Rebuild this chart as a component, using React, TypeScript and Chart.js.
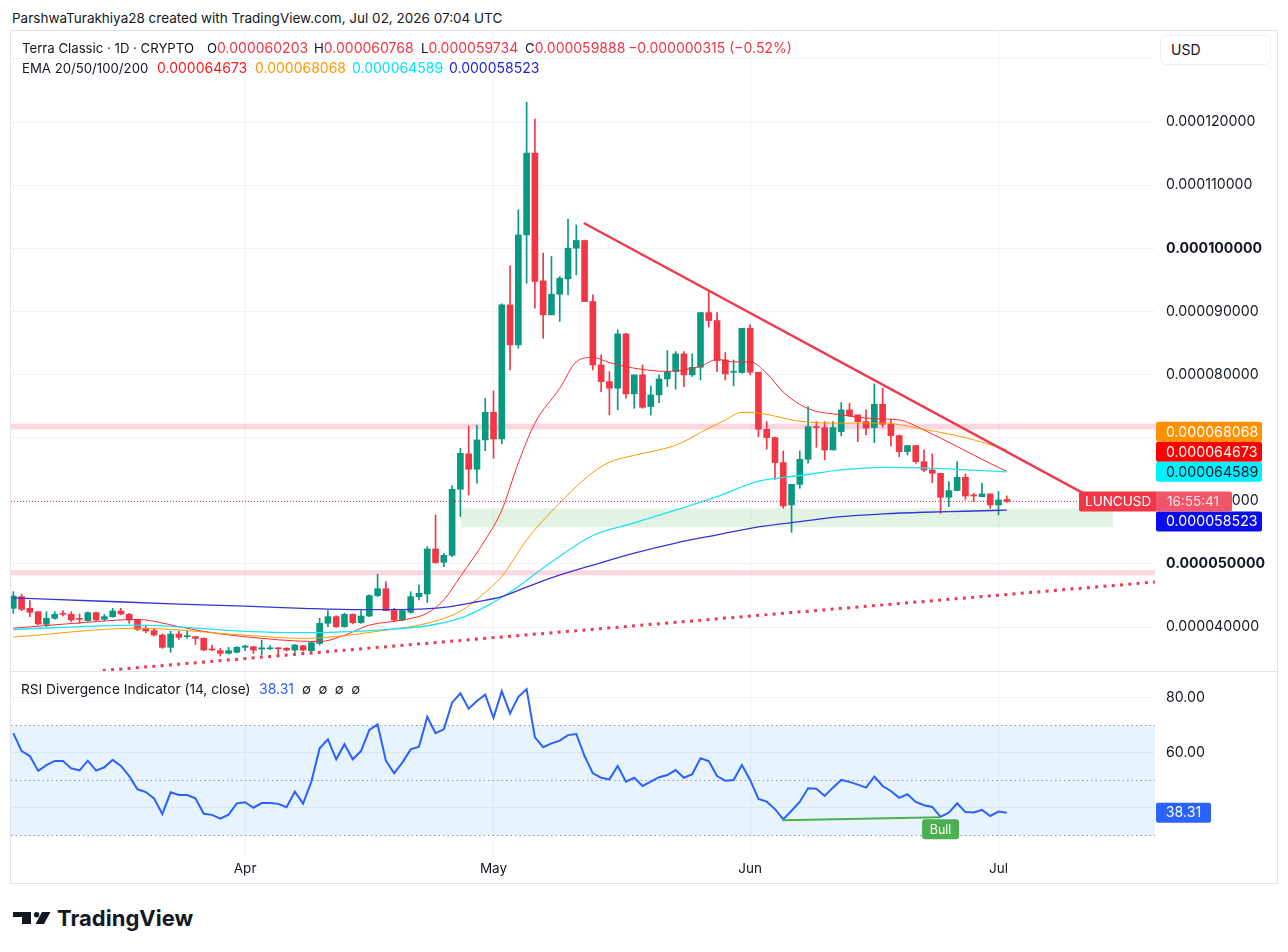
import React, { useEffect, useRef } from 'react';
import { Chart, registerables } from 'chart.js';

Chart.register(...registerables);

const FONT = 'Inter, "Noto Sans", "DejaVu Sans", sans-serif';

// Daily candles, index 0 = Mar 4 2026 ... index 120 = Jul 2 2026. Prices in units of 1e-6 USD.
const OPEN = [
  42.96, 44.81, 42.96, 42.43, 40.42, 41.37, 42.17, 42.01, 41.37, 41.0,
  42.27, 41.22, 41.64, 42.54, 42.01, 41.11, 39.79, 39.42, 38.73, 36.78,
  38.89, 38.47, 38.47, 38.2, 36.46, 36.25, 35.83, 35.99, 36.78, 36.88,
  36.5, 36.55, 36.65, 36.62, 36.35, 37.04, 36.25, 37.41, 40.58, 41.64,
  40.05, 42.01, 40.69, 41.74, 44.97, 46.07, 42.59, 41.11, 42.32, 44.81,
  45.23, 52.36, 50.25, 51.36, 61.82, 67.42, 64.99, 69.64, 74.02, 69.79,
  91.03, 84.69, 102.12, 115.07, 94.83, 89.45, 92.72, 95.15, 100.01, 101.23,
  91.56, 81.52, 78.88, 77.83, 86.43, 76.93, 79.94, 74.92, 76.77, 79.3,
  80.46, 83.26, 79.94, 81.15, 89.81, 88.55, 82.31, 80.36, 80.31, 87.33,
  80.36, 71.33, 70.01, 66.04, 59.33, 62.61, 66.57, 71.75, 71.59, 68.05,
  70.96, 74.39, 73.6, 72.54, 71.59, 75.29, 72.12, 70.32, 67.79, 68.74,
  66.2, 64.88, 64.35, 60.55, 61.61, 63.72, 60.92, 60.65, 61.08, 59.33,
  60.203,
];
const HIGH = [
  45.6, 45.18, 44.17, 42.43, 42.43, 42.43, 42.59, 42.43, 42.06, 42.4,
  42.35, 42.01, 42.96, 42.96, 42.17, 41.22, 40.16, 39.79, 38.89, 39.37,
  39.37, 39.42, 38.47, 38.3, 37.15, 36.62, 36.78, 36.9, 37.15, 36.95,
  37.94, 37.0, 36.7, 36.75, 37.2, 37.1, 37.6, 41.37, 42.59, 41.8,
  42.2, 42.1, 42.59, 45.1, 48.35, 47.18, 42.96, 42.8, 45.6, 46.66,
  52.73, 57.75, 51.67, 62.35, 68.32, 71.85, 72.0, 76.24, 77.4, 91.2,
  97.21, 106.09, 123.15, 120.45, 99.22, 98.69, 95.52, 104.61, 103.71, 101.3,
  92.61, 83.11, 80.46, 87.07, 86.54, 79.94, 81.52, 78.19, 79.94, 83.79,
  83.63, 83.63, 83.26, 89.81, 93.14, 89.81, 83.48, 82.31, 87.33, 87.86,
  80.36, 72.54, 70.1, 67.89, 62.61, 67.89, 74.92, 72.54, 72.54, 72.54,
  75.55, 75.45, 73.6, 74.39, 78.51, 77.82, 72.91, 70.43, 68.74, 68.74,
  68.05, 67.42, 64.35, 63.03, 66.2, 64.25, 61.18, 62.77, 61.08, 61.45,
  60.768,
];
const LOW = [
  42.17, 42.59, 41.64, 40.32, 40.05, 41.22, 41.74, 40.85, 40.58, 40.9,
  41.0, 41.0, 41.53, 41.9, 40.58, 39.42, 39.1, 38.57, 36.62, 35.99,
  38.05, 38.2, 37.25, 36.25, 36.25, 35.4, 35.72, 35.9, 36.25, 35.8,
  35.56, 36.4, 35.3, 36.2, 36.0, 36.2, 36.1, 37.15, 40.05, 39.9,
  39.95, 40.5, 40.58, 41.6, 44.81, 42.59, 40.85, 41.0, 42.17, 44.28,
  43.86, 50.09, 49.56, 51.15, 57.49, 60.92, 62.77, 67.94, 66.73, 69.0,
  80.73, 84.16, 94.46, 90.5, 85.75, 89.45, 88.39, 92.61, 95.78, 91.56,
  80.73, 77.3, 73.6, 74.39, 76.24, 74.65, 74.65, 73.6, 75.55, 78.09,
  77.67, 78.09, 79.67, 79.14, 87.5, 80.46, 79.14, 78.19, 80.2, 79.94,
  70.16, 68.16, 63.4, 58.81, 55.0, 61.98, 65.94, 68.47, 66.47, 68.05,
  70.27, 73.33, 69.37, 70.43, 69.21, 71.64, 68.68, 66.99, 67.26, 65.94,
  64.62, 62.87, 58.01, 59.07, 61.61, 60.23, 59.86, 60.65, 58.81, 57.75,
  59.734,
];
const CLOSE = [
  44.91, 42.8, 42.32, 40.48, 41.37, 42.01, 42.01, 41.11, 41.22, 42.27,
  41.11, 41.64, 42.54, 42.06, 41.11, 39.63, 39.37, 38.73, 36.78, 38.89,
  38.36, 38.57, 38.2, 36.36, 36.36, 35.83, 36.25, 36.78, 36.99, 36.35,
  36.7, 36.7, 36.55, 36.35, 37.15, 36.35, 37.52, 40.58, 41.64, 40.05,
  42.01, 40.69, 41.74, 44.97, 46.07, 42.59, 41.11, 42.59, 44.81, 45.34,
  52.36, 50.2, 51.36, 61.82, 67.52, 64.99, 69.64, 74.02, 69.79, 91.03,
  84.69, 102.12, 115.07, 94.73, 89.45, 92.72, 95.26, 100.01, 101.23, 91.56,
  81.52, 78.88, 77.83, 86.43, 76.93, 79.94, 74.81, 76.77, 79.3, 80.46,
  83.26, 79.94, 81.15, 89.81, 88.55, 82.21, 80.1, 80.46, 87.33, 80.36,
  71.33, 70.01, 66.04, 59.18, 62.61, 66.57, 71.75, 71.59, 68.05, 71.59,
  74.39, 73.49, 72.54, 71.49, 75.29, 72.12, 70.32, 67.79, 68.74, 66.2,
  64.88, 64.35, 60.55, 61.61, 63.72, 60.76, 60.76, 61.08, 59.33, 60.13,
  59.888,
];

// RSI (14, close), one value per candle
const RSI = [
  67.2, 60.7, 58.9, 53.5, 55.6, 57.1, 57.1, 54.4, 53.7, 57.2,
  53.6, 54.8, 57.5, 55.3, 51.6, 46.8, 45.8, 43.5, 37.8, 45.7,
  44.7, 44.7, 43.5, 37.9, 37.5, 36.1, 37.6, 41.7, 42.1, 40.1,
  41.8, 41.8, 41.5, 40.3, 45.9, 41.6, 49.6, 61.7, 65.0, 57.7,
  63.2, 57.7, 60.7, 68.4, 70.4, 57.2, 52.6, 56.6, 61.3, 62.3,
  73.2, 67.2, 68.6, 78.3, 81.7, 76.1, 78.9, 81.2, 72.8, 82.5,
  74.4, 80.4, 83.2, 65.7, 62.1, 63.5, 64.5, 66.5, 66.9, 58.9,
  52.6, 51.0, 50.4, 55.3, 49.6, 51.0, 48.0, 49.6, 51.2, 52.0,
  53.8, 51.0, 52.3, 58.1, 57.1, 51.6, 49.9, 50.2, 55.6, 50.2,
  43.3, 42.3, 39.6, 35.9, 39.0, 42.3, 47.2, 47.0, 44.4, 47.4,
  50.2, 49.5, 48.5, 47.4, 51.4, 48.0, 46.2, 43.7, 45.0, 42.2,
  41.0, 40.4, 36.8, 38.3, 41.7, 38.5, 38.4, 39.3, 37.1, 38.7,
  38.31,
];

// EMA lines (candle index -> value)
const EMA20_IDX = [0, 10, 15, 17, 20, 24, 30, 34, 37, 40, 43, 47, 50, 52, 54, 57, 59, 61, 63, 66, 68, 70, 72, 75, 79, 83, 85, 87, 89, 91, 93, 96, 100, 104, 107, 110, 114, 118, 120];
const EMA20_VAL = [39.8, 40.85, 41.2, 40.9, 40.05, 39.1, 38.2, 37.8, 37.7, 38.7, 40.3, 41.1, 42.2, 44.3, 48.0, 53.8, 58.5, 66.0, 72.3, 77.8, 82.0, 82.7, 81.9, 81.0, 80.5, 81.3, 82.4, 82.0, 82.0, 80.2, 77.2, 74.6, 73.6, 73.0, 72.8, 71.2, 68.6, 65.9, 64.673];
const EMA50_IDX = [0, 15, 28, 35, 45, 50, 54, 57, 59, 62, 65, 70, 72, 75, 80, 84, 86, 88, 90, 95, 100, 105, 110, 115, 120];
const EMA50_VAL = [38.4, 39.8, 38.7, 38.2, 39.5, 40.6, 42.5, 45.5, 48.0, 53.8, 58.3, 64.5, 66.1, 67.2, 68.8, 71.5, 72.8, 74.0, 73.9, 72.6, 72.3, 72.3, 71.3, 70.0, 68.068];
const EMA100_IDX = [0, 15, 28, 35, 45, 50, 54, 57, 60, 65, 70, 75, 80, 85, 90, 95, 100, 105, 110, 115, 120];
const EMA100_VAL = [39.6, 40.3, 39.3, 39.1, 39.6, 40.2, 41.4, 43.2, 45.5, 50.3, 54.5, 56.5, 58.5, 60.65, 63.1, 64.0, 64.9, 65.3, 65.2, 64.9, 64.589];
const EMA200_IDX = [0, 10, 20, 28, 35, 42, 48, 52, 56, 59, 60, 65, 70, 75, 80, 85, 90, 95, 100, 105, 110, 115, 120];
const EMA200_VAL = [44.6, 44.12, 43.64, 43.3, 42.96, 42.75, 42.8, 43.1, 44.0, 44.8, 45.3, 47.8, 49.8, 51.7, 53.3, 54.6, 55.85, 56.69, 57.48, 57.91, 58.18, 58.34, 58.523];

const MONTH_IDX = [28, 58, 89, 119];
const MONTH_LABELS = ['Apr', 'May', 'Jun', 'Jul'];
const PRICE_TICKS = [40, 50, 60, 70, 80, 90, 100, 110, 120, 130];
const HIDDEN_TICKS = [130];
const BOLD_TICKS = [50, 100];
const RSI_TICKS = [40, 60, 80];
const RSI_LEVELS = [70, 50, 30];

const PINK_BANDS = [[71.3, 72.2], [48.2, 49.0]];
const GREEN_ZONE_X = [54.1, 132.8];
const GREEN_ZONE_Y = [55.8, 58.8];
const TREND_DOWN_X = [68.9, 129.5];
const TREND_DOWN_Y = [104.0, 61.0];
const SUPPORT_X = [10.8, 137.9];
const SUPPORT_Y = [33.1, 47.13];
const DIV_X = [92.9, 112];
const DIV_Y = [35.5, 36.6];

const EMA_NAMES = ['EMA 20', 'EMA 50', 'EMA 100', 'EMA 200'];
const EMA_LAST = [64.673, 68.068, 64.589, 58.523];
const EMA_COLORS = ['#ff2a2a', '#ff9800', '#1ee3f5', '#3535d6'];
const EMA_TEXT = ['#ff1a1a', '#ff9800', '#00e5ff', '#1f1fdc'];
const EMA_LABEL_BG = ['#ff0000', '#ff9100', '#00f0ff', '#0b0bf0'];
const SYMBOL = 'LUNCUSD';
const COUNTDOWN = '16:55:41';

const X_MIN = -0.28;
const X_MAX = 137.9;
const Y_MIN = 33.03;
const Y_MAX = 134.42;
const RSI_MIN = 22.91;
const RSI_MAX = 89.45;

const GREEN = '#089981';
const RED = '#f23645';
const GRID = '#f0f3fa';
const TEXT = '#131722';
const AXIS_FONT = 14.2;
const LABEL_H = 20;

const fmtPrice = (v: number) => (v * 1e-6).toFixed(9);
const pts = (xs: number[], ys: number[]) => xs.map((x, k) => ({ x, y: ys[k] }));

const LAST = OPEN.length - 1;

const noPad = (s: any) => {
  s.paddingTop = 0;
  s.paddingBottom = 0;
  s.paddingLeft = 0;
  s.paddingRight = 0;
};

const mainDecor = {
  id: 'mainDecor',
  beforeDatasetsDraw(chart: any) {
    const { ctx, chartArea: a, scales } = chart;
    const x = scales.x;
    const y = scales.y;
    ctx.save();
    ctx.beginPath();
    ctx.rect(a.left, a.top, a.right - a.left, a.bottom - a.top);
    ctx.clip();
    ctx.fillStyle = 'rgba(242, 54, 100, 0.2)';
    PINK_BANDS.forEach(([lo, hi]) => {
      const y1 = y.getPixelForValue(hi);
      const y2 = y.getPixelForValue(lo);
      ctx.fillRect(a.left, y1, a.right - a.left, y2 - y1);
    });
    ctx.fillStyle = 'rgba(76, 175, 80, 0.16)';
    const gx1 = x.getPixelForValue(GREEN_ZONE_X[0]);
    const gx2 = x.getPixelForValue(GREEN_ZONE_X[1]);
    const gy1 = y.getPixelForValue(GREEN_ZONE_Y[1]);
    const gy2 = y.getPixelForValue(GREEN_ZONE_Y[0]);
    ctx.fillRect(gx1, gy1, gx2 - gx1, gy2 - gy1);
    ctx.restore();
  },
  afterDraw(chart: any) {
    const { ctx, chartArea: a, scales } = chart;
    const y = scales.y;
    const h = LABEL_H;
    const w = 106;
    const lastY = y.getPixelForValue(CLOSE[LAST]);
    const labels = EMA_LAST.map((v, k) => ({
      v,
      py: y.getPixelForValue(v),
      bg: EMA_LABEL_BG[k],
      fg: k === 2 ? TEXT : '#ffffff',
    }));
    const above = labels.filter((l) => l.py <= lastY).sort((p, q) => q.py - p.py);
    let prev = lastY;
    above.forEach((l) => {
      l.py = Math.min(l.py, prev - h);
      prev = l.py;
    });
    const below = labels.filter((l) => l.py > lastY).sort((p, q) => p.py - q.py);
    prev = lastY;
    below.forEach((l) => {
      l.py = Math.max(l.py, prev + h);
      prev = l.py;
    });
    ctx.save();
    ctx.font = `${AXIS_FONT}px ${FONT}`;
    ctx.textBaseline = 'middle';
    ctx.textAlign = 'left';
    labels.forEach((l) => {
      ctx.fillStyle = l.bg;
      ctx.beginPath();
      ctx.roundRect(a.right + 1, l.py - h / 2, w, h, 2);
      ctx.fill();
      ctx.fillStyle = l.fg;
      ctx.fillText(fmtPrice(l.v), a.right + 11, l.py + 0.5);
    });
    // symbol + countdown label
    ctx.fillStyle = '#f23645';
    ctx.beginPath();
    ctx.roundRect(a.right - 76, lastY - h / 2, 77, h, [2, 0, 0, 2]);
    ctx.fill();
    ctx.fillStyle = '#f0566a';
    ctx.beginPath();
    ctx.roundRect(a.right + 1, lastY - h / 2, 76, h, [0, 2, 2, 0]);
    ctx.fill();
    ctx.fillStyle = '#ffffff';
    ctx.font = `13.5px ${FONT}`;
    ctx.fillText(SYMBOL, a.right - 70, lastY + 0.5);
    ctx.fillStyle = 'rgba(255,255,255,0.82)';
    ctx.fillText(COUNTDOWN, a.right + 12, lastY + 0.5);
    ctx.restore();
  },
};

const rsiDecor = {
  id: 'rsiDecor',
  afterDraw(chart: any) {
    const { ctx, chartArea: a, scales } = chart;
    const x = scales.x;
    const y = scales.y;
    ctx.save();
    ctx.textBaseline = 'middle';
    ctx.textAlign = 'center';
    // Bull tag under divergence end
    const bx = x.getPixelForValue(DIV_X[1]);
    const by = y.getPixelForValue(DIV_Y[1]) + 2;
    ctx.fillStyle = '#4caf50';
    ctx.beginPath();
    ctx.roundRect(bx - 18.5, by, 37, 20, 3);
    ctx.fill();
    ctx.fillStyle = '#ffffff';
    ctx.font = `12.5px ${FONT}`;
    ctx.fillText('Bull', bx, by + 10.5);
    // last RSI value on the axis
    const ry = y.getPixelForValue(RSI[LAST]);
    ctx.fillStyle = '#2962ff';
    ctx.beginPath();
    ctx.roundRect(a.right + 1, ry - LABEL_H / 2, 55, LABEL_H, 2);
    ctx.fill();
    ctx.fillStyle = '#ffffff';
    ctx.font = `${AXIS_FONT}px ${FONT}`;
    ctx.fillText(RSI[LAST].toFixed(2), a.right + 28.5, ry + 0.5);
    ctx.restore();
  },
};

function buildMainConfig(): any {
  const idx = OPEN.map((_, i) => i);
  const colors = idx.map((i) => (CLOSE[i] >= OPEN[i] ? GREEN : RED));
  const emaSets = [
    [EMA20_IDX, EMA20_VAL, 1],
    [EMA50_IDX, EMA50_VAL, 1],
    [EMA100_IDX, EMA100_VAL, 1.3],
    [EMA200_IDX, EMA200_VAL, 1.3],
  ].map(([xs, ys, bw]: any, k) => ({
    type: 'line',
    label: EMA_NAMES[k],
    data: pts(xs, ys),
    borderColor: EMA_COLORS[k],
    borderWidth: bw,
    pointRadius: 0,
    cubicInterpolationMode: 'monotone',
    order: 8 - k,
  }));
  return {
    type: 'bar',
    data: {
      datasets: [
        {
          type: 'bar',
          label: 'wick',
          data: idx.map((i) => ({ x: i, y: [LOW[i], HIGH[i]] })),
          backgroundColor: colors,
          barThickness: 1,
          grouped: false,
          borderWidth: 0,
          order: 12,
        },
        {
          type: 'bar',
          label: 'body',
          data: idx.map((i) => ({ x: i, y: [OPEN[i], CLOSE[i]] })),
          backgroundColor: colors,
          barThickness: 6,
          grouped: false,
          minBarLength: 1,
          borderWidth: 0,
          order: 11,
        },
        ...emaSets,
        {
          type: 'line',
          label: 'last',
          data: pts([X_MIN, X_MAX], [CLOSE[LAST], CLOSE[LAST]]),
          borderColor: RED,
          borderWidth: 1,
          borderDash: [1, 2],
          pointRadius: 0,
          order: 3,
        },
        {
          type: 'line',
          label: 'support',
          data: pts(SUPPORT_X, SUPPORT_Y),
          borderColor: '#ef3b4e',
          borderWidth: 3,
          borderDash: [3, 5.3],
          pointRadius: 0,
          order: 2,
        },
        {
          type: 'line',
          label: 'trend',
          data: pts(TREND_DOWN_X, TREND_DOWN_Y),
          borderColor: '#ef3b4e',
          borderWidth: 2.5,
          pointRadius: 0,
          order: 1,
        },
      ],
    },
    options: {
      responsive: false,
      animation: false,
      events: [],
      layout: { padding: 0, autoPadding: false },
      plugins: { legend: { display: false }, tooltip: { enabled: false } },
      scales: {
        x: {
          type: 'linear',
          min: X_MIN,
          max: X_MAX,
          offset: false,
          grid: { color: GRID, drawTicks: false, offset: false },
          border: { display: false },
          ticks: { display: false },
          afterBuildTicks: (s: any) => {
            s.ticks = MONTH_IDX.map((v) => ({ value: v }));
          },
          afterFit: (s: any) => {
            s.height = 0;
            noPad(s);
          },
        },
        y: {
          type: 'linear',
          position: 'right',
          min: Y_MIN,
          max: Y_MAX,
          grid: { color: GRID, drawTicks: false },
          border: { display: false },
          afterBuildTicks: (s: any) => {
            s.ticks = PRICE_TICKS.map((v) => ({ value: v }));
          },
          afterFit: (s: any) => {
            s.width = 122;
            noPad(s);
          },
          ticks: {
            padding: 11,
            color: TEXT,
            font: (c: any) => ({
              family: FONT,
              size: AXIS_FONT,
              weight: c.tick && BOLD_TICKS.includes(c.tick.value) ? '700' : '400',
            }),
            callback: (v: number) => (HIDDEN_TICKS.includes(v) ? '' : fmtPrice(v)),
          },
        },
      },
    },
    plugins: [mainDecor],
  };
}

function buildRsiConfig(): any {
  return {
    type: 'line',
    data: {
      datasets: [
        {
          label: 'RSI',
          data: RSI.map((v, i) => ({ x: i, y: v })),
          borderColor: '#2962ff',
          borderWidth: 2,
          pointRadius: 0,
          order: 1,
        },
        {
          label: 'divergence',
          data: pts(DIV_X, DIV_Y),
          borderColor: '#4caf50',
          borderWidth: 2,
          pointRadius: 0,
          order: 0,
        },
        {
          label: 'band',
          data: pts([X_MIN, X_MAX], [RSI_LEVELS[0], RSI_LEVELS[0]]),
          borderWidth: 0,
          borderColor: 'rgba(0,0,0,0)',
          backgroundColor: 'rgba(33, 150, 243, 0.11)',
          fill: { value: RSI_LEVELS[2] },
          pointRadius: 0,
          order: 6,
        },
        ...RSI_LEVELS.map((lvl) => ({
          label: 'level ' + lvl,
          data: pts([X_MIN, X_MAX], [lvl, lvl]),
          borderColor: '#9598a1',
          borderWidth: 1,
          borderDash: [1.5, 3],
          pointRadius: 0,
          order: 5,
        })),
      ],
    },
    options: {
      responsive: false,
      animation: false,
      events: [],
      layout: { padding: 0, autoPadding: false },
      plugins: { legend: { display: false }, tooltip: { enabled: false } },
      scales: {
        x: {
          type: 'linear',
          min: X_MIN,
          max: X_MAX,
          offset: false,
          grid: { color: GRID, drawTicks: false },
          border: { display: false },
          afterBuildTicks: (s: any) => {
            s.ticks = MONTH_IDX.map((v) => ({ value: v }));
          },
          afterFit: (s: any) => {
            s.height = 28;
            noPad(s);
          },
          ticks: {
            padding: 6,
            color: TEXT,
            maxRotation: 0,
            autoSkip: false,
            font: { family: FONT, size: 13.5 },
            callback: (v: number) => MONTH_LABELS[MONTH_IDX.indexOf(v)] ?? '',
          },
        },
        y: {
          type: 'linear',
          position: 'right',
          min: RSI_MIN,
          max: RSI_MAX,
          grid: { color: GRID, drawTicks: false },
          border: { display: false },
          afterBuildTicks: (s: any) => {
            s.ticks = RSI_TICKS.map((v) => ({ value: v }));
          },
          afterFit: (s: any) => {
            s.width = 122;
            noPad(s);
          },
          ticks: {
            padding: 11,
            color: TEXT,
            font: { family: FONT, size: AXIS_FONT },
            // a tick label hidden under the last-value tag is not drawn
            callback: (v: number) => (Math.abs(v - RSI[LAST]) < 4 ? '' : v.toFixed(2)),
          },
        },
      },
    },
    plugins: [rsiDecor],
  };
}

const abs = (left: number, top: number, extra: any = {}) => ({
  position: 'absolute' as const,
  left,
  top,
  whiteSpace: 'nowrap' as const,
  ...extra,
});

function LegendItem({ left, top, label, value, color }: any) {
  return (
    <div style={abs(left, top, { lineHeight: '16px', fontSize: 13.2 })}>
      {label ? <span style={{ color: TEXT }}>{label}</span> : null}
      <span style={{ color, fontSize: 14 }}>{value}</span>
    </div>
  );
}

export default function App() {
  const mainRef = useRef<HTMLCanvasElement>(null);
  const rsiRef = useRef<HTMLCanvasElement>(null);

  useEffect(() => {
    const c1 = new Chart(mainRef.current as HTMLCanvasElement, buildMainConfig());
    const c2 = new Chart(rsiRef.current as HTMLCanvasElement, buildRsiConfig());
    return () => {
      c1.destroy();
      c2.destroy();
    };
  }, []);

  const chg = (CLOSE[LAST] - OPEN[LAST]) * 1e-6;
  const pct = ((CLOSE[LAST] - OPEN[LAST]) / OPEN[LAST]) * 100;
  const minus = (s: string) => s.replace('-', '\u2212');

  return (
    <div
      style={{
        position: 'absolute',
        left: 0,
        top: 0,
        width: 1288,
        height: 952,
        background: '#ffffff',
        fontFamily: FONT,
        color: TEXT,
        overflow: 'hidden',
      }}
    >
      <div style={abs(12, 10, { fontSize: 13.5, lineHeight: '16px' })}>
        ParshwaTurakhiya28 created with TradingView.com, Jul 02, 2026 07:04 UTC
      </div>

      <div
        style={{
          position: 'absolute',
          left: 10,
          top: 30,
          width: 1268,
          height: 854,
          border: '1px solid #e0e3eb',
          boxSizing: 'border-box',
        }}
      >
        <canvas
          ref={mainRef}
          width={1266}
          height={640}
          style={{ position: 'absolute', left: 0, top: 0, width: 1266, height: 640 }}
        />
        <div style={{ position: 'absolute', left: 0, top: 640, width: 1266, height: 1, background: '#e0e3eb' }} />
        <canvas
          ref={rsiRef}
          width={1266}
          height={211}
          style={{ position: 'absolute', left: 0, top: 641, width: 1266, height: 211 }}
        />
      </div>

      <LegendItem left={22} top={40} label="Terra Classic · 1D · CRYPTO" value="" color={TEXT} />
      <LegendItem left={207} top={40} label="O" value={fmtPrice(OPEN[LAST])} color={RED} />
      <LegendItem left={314} top={40} label="H" value={fmtPrice(HIGH[LAST])} color={RED} />
      <LegendItem left={421} top={40} label="L" value={fmtPrice(LOW[LAST])} color={RED} />
      <LegendItem left={525} top={40} label="C" value={fmtPrice(CLOSE[LAST])} color={RED} />
      <LegendItem
        left={628}
        top={40}
        label=""
        value={`${minus(chg.toFixed(9))} (${minus(pct.toFixed(2))}%)`}
        color={RED}
      />

      <LegendItem left={22} top={60} label="EMA 20/50/100/200" value="" color={TEXT} />
      {[157, 255, 352, 449].map((lx, k) => (
        <LegendItem key={k} left={lx} top={60} label="" value={fmtPrice(EMA_LAST[k])} color={EMA_TEXT[k]} />
      ))}

      <div style={abs(21, 681, { fontSize: 13.7, lineHeight: '16px' })}>
        RSI Divergence Indicator (14, close)
      </div>
      <div style={abs(259, 681, { fontSize: 14, lineHeight: '16px', color: '#2962ff' })}>
        {RSI[LAST].toFixed(2)}
      </div>
      <div style={abs(302, 681, { fontSize: 13, lineHeight: '16px', letterSpacing: 7.5 })}>∅∅∅∅</div>

      <div
        style={{
          position: 'absolute',
          left: 1160,
          top: 35,
          width: 111,
          height: 30,
          border: '1px solid #eef0f3',
          borderRadius: 6,
          boxSizing: 'border-box',
          background: '#ffffff',
          fontSize: 14,
          lineHeight: '28px',
          paddingLeft: 10,
        }}
      >
        USD
      </div>

      <div style={abs(13, 907, { display: 'flex', alignItems: 'center' })}>
        <svg width="38" height="13" viewBox="0 0 38 13" style={{ display: 'block' }}>
          <path d="M0 0 H18 V12 H9 V5 H0 Z" fill="#131722" />
          <circle cx="23.6" cy="2.7" r="2.7" fill="#131722" />
          <path d="M29 0 H37.5 L31 12 H22.5 Z" fill="#131722" />
        </svg>
        <span style={{ marginLeft: 6, fontSize: 22, fontWeight: 700, letterSpacing: 0, lineHeight: '22px' }}>
          TradingView
        </span>
      </div>
    </div>
  );
}
